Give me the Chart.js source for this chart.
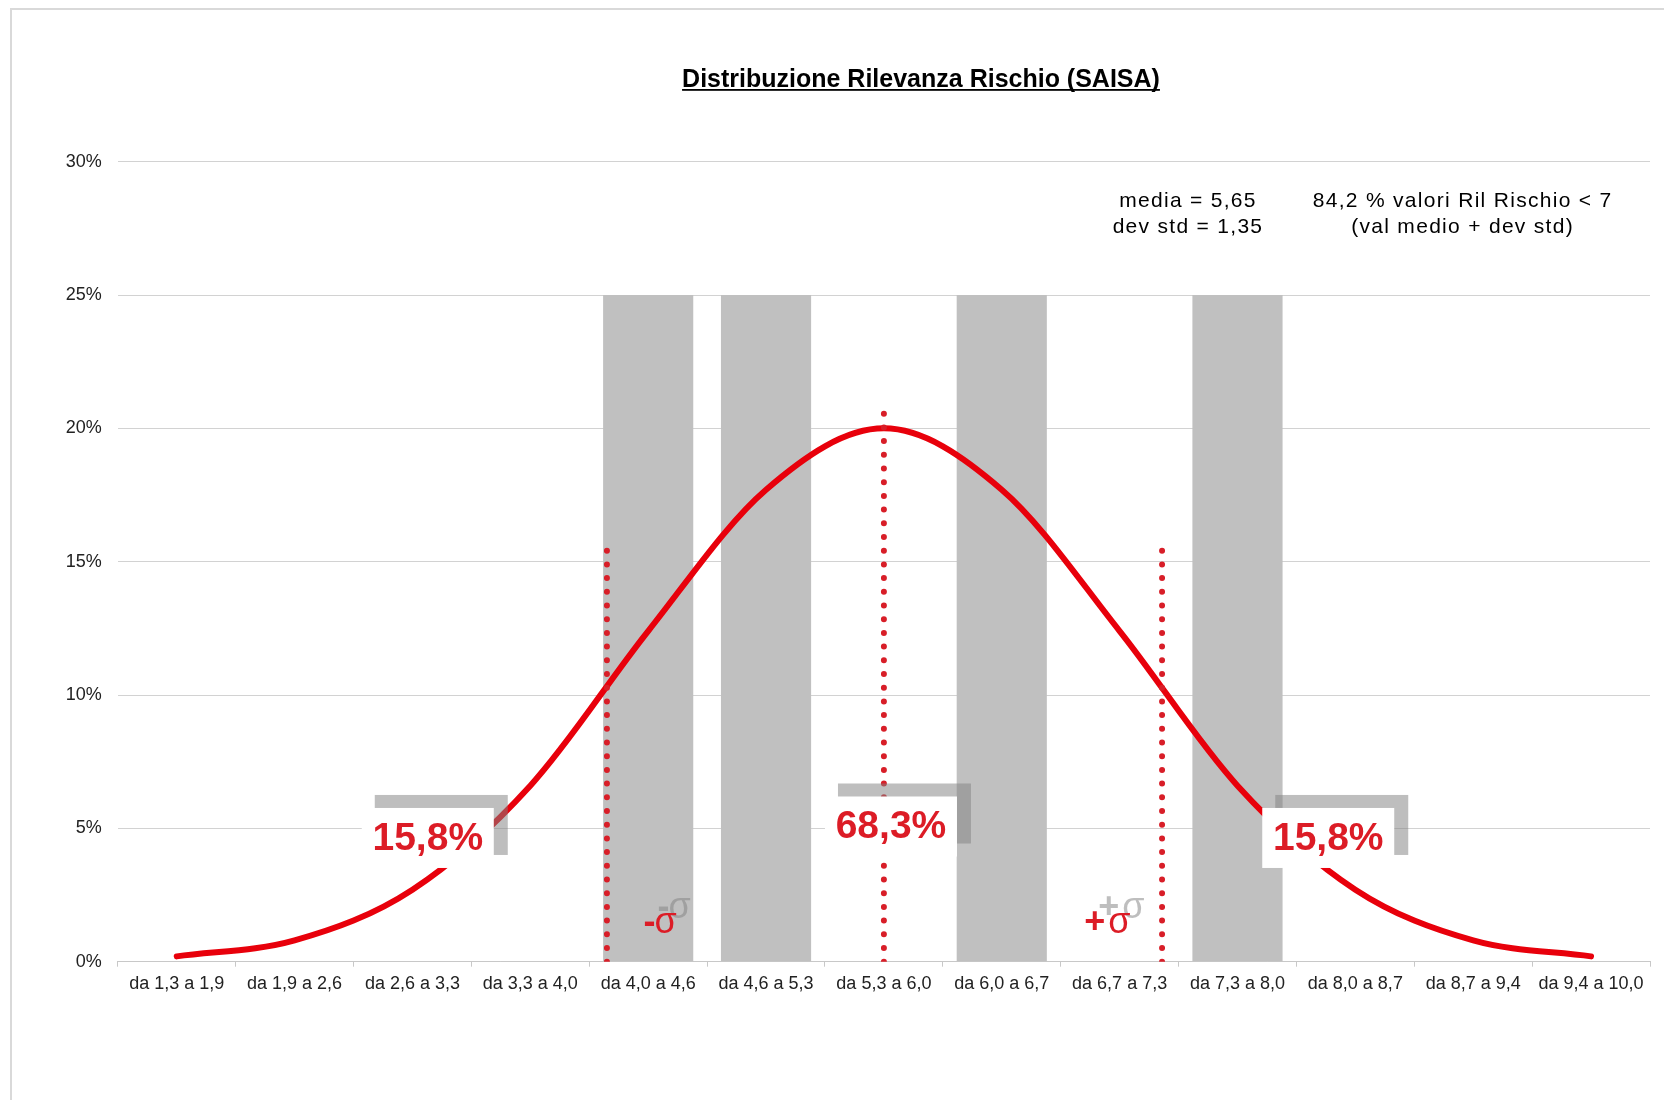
<!DOCTYPE html>
<html lang="it">
<head>
<meta charset="utf-8">
<title>Distribuzione Rilevanza Rischio (SAISA)</title>
<script src="https://cdn.jsdelivr.net/npm/chart.js@4.4.1/dist/chart.umd.min.js"></script>
<style>
  html, body { margin: 0; padding: 0; background: #ffffff; overflow: hidden; }
  #wrap { position: relative; width: 1664px; height: 1100px; }
  #frame {
    position: absolute; left: 10px; top: 8px; width: 1700px; height: 1200px;
    border-top: 2px solid #d9d9d9; border-left: 2px solid #d9d9d9; pointer-events: none;
  }
</style>
</head>
<body>
<div id="wrap">
  <canvas id="riskChart" width="1664" height="1100"></canvas>
  <div id="frame"></div>
</div>
<script>
// Values
var chartTitle = "Distribuzione Rilevanza Rischio (SAISA)";
var categories = [
  "da 1,3 a 1,9", "da 1,9 a 2,6", "da 2,6 a 3,3", "da 3,3 a 4,0", "da 4,0 a 4,6",
  "da 4,6 a 5,3", "da 5,3 a 6,0", "da 6,0 a 6,7", "da 6,7 a 7,3", "da 7,3 a 8,0",
  "da 8,0 a 8,7", "da 8,7 a 9,4", "da 9,4 a 10,0"
];
var bandValues = [null, null, null, null, 25, 25, null, 25, null, 25, null, null, null];
var curveValues = [0.2, 0.8, 2.7, 6.6, 12.4, 17.7, 20.0, 17.7, 12.4, 6.6, 2.7, 0.8, 0.2];
var sigmaPositions = [3.65, 6.0, 8.36];
var sigmaHeights = [15.7, 20.8, 15.7];
var shareLabels = ["15,8%", "68,3%", "15,8%"];
var sigmaLabels = ["-\u03c3", "+\u03c3"];
var yTicks = [0, 5, 10, 15, 20, 25, 30];
var statsLeft = ["media = 5,65", "dev std = 1,35"];
var statsRight = ["84,2 % valori Ril Rischio < 7", "(val medio + dev std)"];

// Where the annotations sit (x in category units, y in %)
var shareBoxPos = [{ x: 2.13, y: 4.64 }, { x: 6.06, y: 5.07 }, { x: 9.77, y: 4.64 }];
var sigmaLabelPos = [{ x: 3.96, y: 1.08 }, { x: 7.70, y: 1.08 }];
var statsPos = [{ x: 8.58, y: [28.53, 27.56] }, { x: 10.91, y: [28.53, 27.56] }];

var FONT = "'Liberation Sans', Arial, Helvetica, sans-serif";
var RED_TEXT = "#dc1c26";
var SHADOW = "rgba(131,131,131,0.52)";

// Function to write a sigma mark: bold sign, plain sigma
function drawSigma(ctx, txt, x, y) {
  ctx.font = "bold 36px " + FONT;
  var sign = txt.charAt(0);
  var w = ctx.measureText(sign).width;
  ctx.fillText(sign, x, y);
  ctx.font = "36px " + FONT;
  ctx.fillText(txt.slice(1), x + w + (sign === "+" ? 3 : -1), y);
}

// Function to draw the boxes, sigma marks and stats text
var overlayPlugin = {
  id: "overlays",
  afterLayout: function (chart) {
    // move the title centre to where it sits in the original
    var tb = chart.titleBlock;
    var centre = 921;
    var half = Math.min(centre - tb.left, tb.right - centre);
    tb.left = centre - half;
    tb.right = centre + half;
  },
  afterDatasetsDraw: function (chart) {
    var ctx = chart.ctx;
    var xs = chart.scales.xl;
    var ys = chart.scales.y;
    ctx.save();

    shareLabels.forEach(function (txt, i) {
      var cx = xs.getPixelForValue(shareBoxPos[i].x);
      var cy = ys.getPixelForValue(shareBoxPos[i].y);
      ctx.fillStyle = SHADOW;
      ctx.fillRect(cx - 53, cy - 43, 133, 60);
      ctx.fillStyle = "#ffffff";
      ctx.fillRect(cx - 66, cy - 30, 132, 60);
      ctx.fillStyle = RED_TEXT;
      ctx.font = "bold 39px " + FONT;
      ctx.textAlign = "center";
      ctx.textBaseline = "middle";
      ctx.fillText(txt, cx, cy + 1);
    });

    ctx.textAlign = "left";
    ctx.textBaseline = "alphabetic";
    sigmaLabels.forEach(function (txt, i) {
      var x = xs.getPixelForValue(sigmaLabelPos[i].x);
      var y = ys.getPixelForValue(sigmaLabelPos[i].y);
      ctx.fillStyle = SHADOW;
      drawSigma(ctx, txt, x + 14, y - 15);
      ctx.fillStyle = RED_TEXT;
      drawSigma(ctx, txt, x, y);
    });

    ctx.font = "21px " + FONT;
    ctx.letterSpacing = "1.3px";
    ctx.fillStyle = "#000000";
    ctx.textAlign = "center";
    ctx.textBaseline = "middle";
    [statsLeft, statsRight].forEach(function (lines, k) {
      var x = xs.getPixelForValue(statsPos[k].x);
      lines.forEach(function (line, j) {
        ctx.fillText(line, x, ys.getPixelForValue(statsPos[k].y[j]));
      });
    });
    ctx.restore();
  },
  afterDraw: function (chart) {
    // underline for the title
    var ctx = chart.ctx;
    var tb = chart.titleBlock;
    ctx.save();
    ctx.font = "bold 25px " + FONT;
    var w = ctx.measureText(chartTitle).width;
    var cx = (tb.left + tb.right) / 2;
    ctx.fillStyle = "#000000";
    ctx.fillRect(cx - w / 2, 89, w, 1.8);
    ctx.restore();
  }
};

// Function to build the chart
function drawRiskChart() {
  Chart.defaults.font.family = FONT;
  Chart.defaults.color = "#222222";

  var sigmaDatasets = sigmaPositions.map(function (pos, i) {
    return {
      type: "line",
      xAxisID: "xl",
      data: [{ x: pos, y: 0 }, { x: pos, y: sigmaHeights[i] }],
      borderColor: "#d81e28",
      borderWidth: 6,
      borderDash: [0, 13.7],
      borderCapStyle: "round",
      pointRadius: 0,
      tension: 0,
      order: 1
    };
  });

  var ctx = document.getElementById("riskChart").getContext("2d");
  new Chart(ctx, {
    type: "bar",
    data: {
      labels: categories,
      datasets: [
        {
          type: "bar",
          data: bandValues,
          backgroundColor: "#c0c0c0",
          borderWidth: 0,
          grouped: false,
          barPercentage: 0.765,
          categoryPercentage: 1,
          order: 3
        },
        {
          type: "line",
          data: curveValues,
          borderColor: "#e8000b",
          borderWidth: 6,
          borderCapStyle: "round",
          cubicInterpolationMode: "monotone",
          pointRadius: 0,
          fill: false,
          order: 2
        }
      ].concat(sigmaDatasets)
    },
    options: {
      responsive: false,
      animation: false,
      layout: { padding: { top: 0, right: 14, bottom: 0, left: 0 } },
      plugins: {
        legend: { display: false },
        tooltip: { enabled: false },
        title: {
          display: true,
          text: chartTitle,
          color: "#000000",
          font: { size: 25, weight: "bold" },
          padding: { top: 65, bottom: 66.7 }
        }
      },
      scales: {
        x: {
          grid: { drawOnChartArea: false, drawTicks: true, tickLength: 5, color: "#c8c8c8" },
          border: { display: true, color: "#c8c8c8" },
          ticks: { font: { size: 18 }, color: "#222222", padding: 7, maxRotation: 0, autoSkip: false },
          afterFit: function (scale) { scale.height = 138.3; }
        },
        xl: { type: "linear", display: false, offset: false, min: -0.5, max: 12.5 },
        y: {
          min: 0,
          max: 30,
          grid: { color: "#d2d2d2", drawTicks: false },
          border: { display: false },
          ticks: {
            font: { size: 18 },
            color: "#222222",
            padding: 16,
            callback: function (v) { return v + "%"; }
          },
          afterBuildTicks: function (scale) {
            scale.ticks = yTicks.map(function (v) { return { value: v }; });
          },
          afterFit: function (scale) { scale.width = 117.8; }
        }
      }
    },
    plugins: [overlayPlugin]
  });
}

document.addEventListener("DOMContentLoaded", function () {
  drawRiskChart();
});
</script>
</body>
</html>
